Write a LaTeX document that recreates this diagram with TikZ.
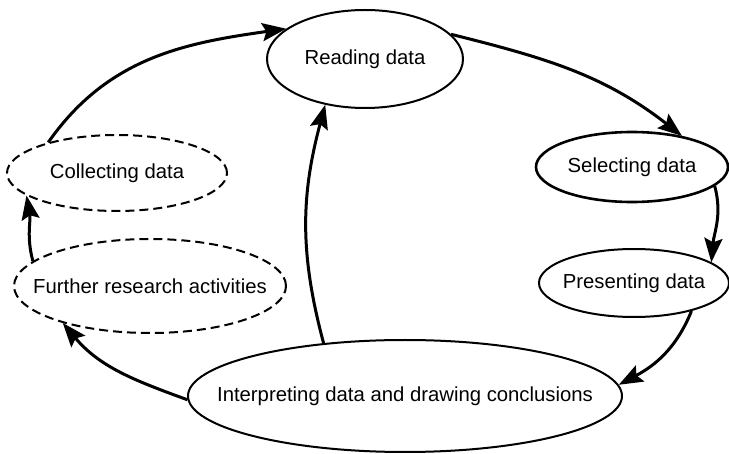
\documentclass[tikz,border=0pt]{standalone}
\usepackage{fontspec}
\setmainfont{Liberation Sans}
\usetikzlibrary{shapes.geometric,arrows.meta}
% centred label of zero width, optionally lowered by #1
\newcommand\cyctext[2][0pt]{\makebox[0pt]{\raisebox{-#1}{#2}}}
\begin{document}
\begin{tikzpicture}[x=1pt,y=1pt,
  stage/.style={ellipse,draw,line width=2pt,inner sep=0pt,
    font=\fontsize{20.3}{24}\selectfont},
  optional/.style={stage,dash pattern=on 9pt off 5pt},
  flow/.style={line width=3pt,
    -{Stealth[length=24pt,width=18pt,inset=4pt]}}]
  \fill[white] (0,0) rectangle (729,-454);
  \useasboundingbox (0,0) rectangle (729,-454);

  % stages of the cycle
  \node[stage,minimum width=196pt,minimum height=98pt] (read) at (365,-59) {\cyctext{Reading data}};
  \node[stage,line width=2.6pt,minimum width=192pt,minimum height=70pt] (sel) at (632,-167) {\cyctext[2pt]{Selecting data}};
  \node[stage,minimum width=190pt,minimum height=68pt] (pres) at (634,-283) {\cyctext{Presenting data}};
  \node[stage,minimum width=434pt,minimum height=112pt] (interp) at (405,-396) {\cyctext[4pt]{Interpreting data and drawing conclusions}};
  \node[optional,minimum width=272pt,minimum height=94pt] (further) at (150,-286) {\cyctext{Further research activities}};
  \node[optional,minimum width=220pt,minimum height=76pt] (coll) at (117,-173) {\cyctext[1pt]{Collecting data}};

  % connectors
  \draw[flow] (coll.156) to[out=55,in=188] (read.159);
  \draw[flow] (read.16) to[out=-14,in=142] (sel.32);
  \draw[flow] (sel.-13) to[out=-75,in=85] (pres.15);
  \draw[flow] (pres.-26) to[out=-112,in=28] (interp.3);
  \draw[flow] (interp.147.5) to[out=105,in=-105] (read.229);
  \draw[flow] (interp.181) to[out=160,in=-50] (further.203);
  \draw[flow] (further.168) to[out=105,in=-80] (coll.194);
\end{tikzpicture}
\end{document}
